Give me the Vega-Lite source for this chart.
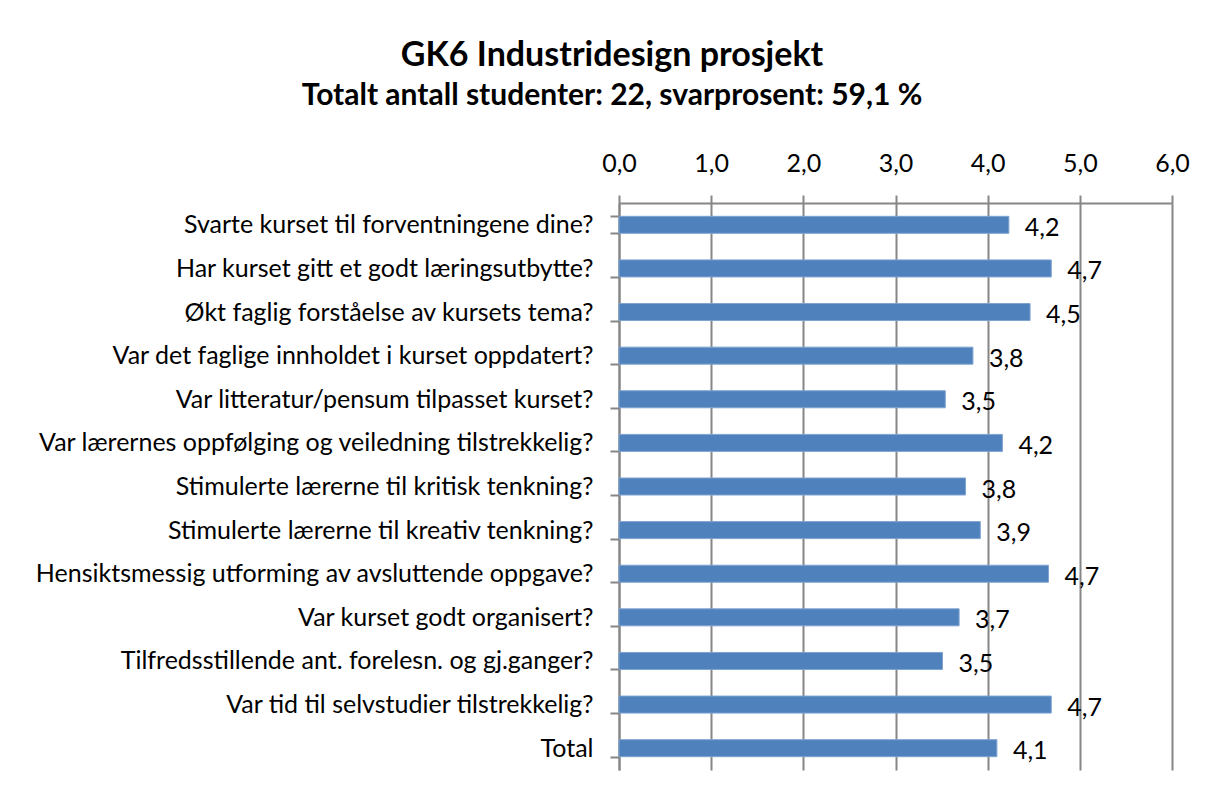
{
  "$schema": "https://vega.github.io/schema/vega-lite/v6.json",
  "autosize": {"type": "none"},
  "width": 553,
  "height": 567,
  "padding": {"left": 619, "top": 203, "right": 42, "bottom": 24},
  "background": "white",
  "title": {
    "text": "GK6 Industridesign prosjekt",
    "subtitle": "Totalt antall studenter: 22, svarprosent: 59,1 %",
    "anchor": "middle",
    "frame": "bounds",
    "font": "Lato",
    "fontSize": 34,
    "fontWeight": "bold",
    "color": "black",
    "subtitleFont": "Lato",
    "subtitleFontSize": 30,
    "subtitleFontWeight": "bold",
    "subtitleColor": "black",
    "subtitlePadding": 8,
    "offset": 40
  },
  "data": {
    "values": [
      {"sporsmal": "Svarte kurset til forventningene dine?", "snitt": 4.23},
      {"sporsmal": "Har kurset gitt et godt læringsutbytte?", "snitt": 4.69},
      {"sporsmal": "Økt faglig forståelse av kursets tema?", "snitt": 4.46},
      {"sporsmal": "Var det faglige innholdet i kurset oppdatert?", "snitt": 3.84},
      {"sporsmal": "Var litteratur/pensum tilpasset kurset?", "snitt": 3.54},
      {"sporsmal": "Var lærernes oppfølging og veiledning tilstrekkelig?", "snitt": 4.16},
      {"sporsmal": "Stimulerte lærerne til kritisk tenkning?", "snitt": 3.76},
      {"sporsmal": "Stimulerte lærerne til kreativ tenkning?", "snitt": 3.92},
      {"sporsmal": "Hensiktsmessig utforming av avsluttende oppgave?", "snitt": 4.66},
      {"sporsmal": "Var kurset godt organisert?", "snitt": 3.69},
      {"sporsmal": "Tilfredsstillende ant. forelesn. og gj.ganger?", "snitt": 3.51},
      {"sporsmal": "Var tid til selvstudier tilstrekkelig?", "snitt": 4.69},
      {"sporsmal": "Total", "snitt": 4.1}
    ]
  },
  "encoding": {
    "y": {
      "field": "sporsmal",
      "type": "nominal",
      "sort": null,
      "scale": {"paddingInner": 0.61, "paddingOuter": 0.305},
      "axis": {
        "title": null,
        "orient": "left",
        "tickBand": "extent",
        "grid": false,
        "domainColor": "#868686",
        "domainWidth": 2,
        "tickColor": "#868686",
        "tickWidth": 2,
        "tickSize": 9,
        "labelPadding": 17,
        "labelFont": "Lato",
        "labelFontSize": 25,
        "labelColor": "black",
        "labelLimit": 700
      }
    },
    "x": {
      "field": "snitt",
      "type": "quantitative",
      "scale": {"domain": [0, 6], "nice": false},
      "axis": {
        "title": null,
        "orient": "top",
        "values": [0, 1, 2, 3, 4, 5, 6],
        "format": ".1f",
        "grid": true,
        "gridColor": "#868686",
        "gridWidth": 2,
        "domainColor": "#868686",
        "domainWidth": 2,
        "tickColor": "#868686",
        "tickWidth": 2,
        "tickSize": 8,
        "labelPadding": 19,
        "labelFont": "Lato",
        "labelFontSize": 25,
        "labelColor": "black",
        "labelFlush": false
      }
    }
  },
  "layer": [
    {"mark": {"type": "bar", "color": "#4F81BD", "stroke": "#7FA3D0", "strokeWidth": 1}},
    {
      "mark": {"type": "text", "align": "left", "baseline": "middle", "dx": 16, "dy": 3, "font": "Lato", "fontSize": 25, "color": "black"},
      "encoding": {"text": {"field": "snitt", "type": "quantitative", "format": ".1f"}}
    }
  ],
  "config": {
    "view": {"stroke": null},
    "locale": {"number": {"decimal": ",", "thousands": "\u00a0", "grouping": [3], "currency": ["", " kr"]}}
  }
}
